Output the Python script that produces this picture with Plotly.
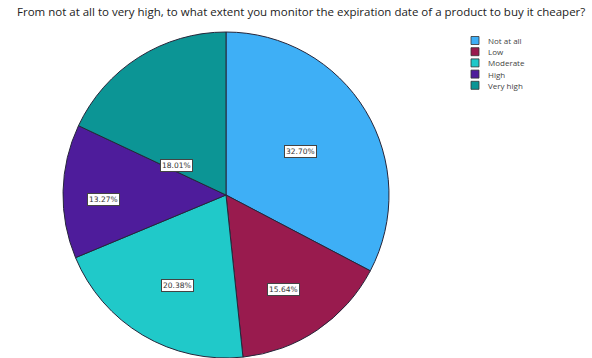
import math
import plotly.graph_objects as go

# Survey answers and their shares (percent)
categories = ["Not at all", "Low", "Moderate", "High", "Very high"]
shares = [32.70, 15.64, 20.38, 13.27, 18.01]
value_labels = ["32.70%", "15.64%", "20.38%", "13.27%", "18.01%"]

title_text = ("From not at all to very high, to what extent you monitor the "
              "expiration date of a product to buy it cheaper?")

# Styling
colors = ["#3EAFF6", "#991B4E", "#20C9C9", "#4E1C9B", "#0C9595"]
label_radius = [0.53, 0.68, 0.63, 0.75, 0.35]   # label distance as fraction of radius
label_turn = [1.0, 3.0, -2.5, -3.5, -27.0]      # degrees added to the slice mid-angle

W, H = 592, 358
cx, cy, R = 226, 195, 163  # pie centre / radius in pixels (from top-left)

fig = go.Figure()
fig.add_trace(go.Pie(
    labels=categories,
    values=shares,
    sort=False,
    direction="clockwise",
    rotation=0,
    marker=dict(colors=colors, line=dict(color="#26263a", width=1)),
    textinfo="none",
    hoverinfo="label+percent",
    showlegend=False,
    domain=dict(x=[(cx - R) / W, (cx + R) / W],
                y=[max(0, (H - cy - R) / H), (H - cy + R) / H]),
))

# Boxed value labels placed inside each slice
annotations = []
total = sum(shares)
cum = 0.0
for val, lab, f, turn in zip(shares, value_labels, label_radius, label_turn):
    mid = (cum + val / 2) / total * 360.0 + turn
    cum += val
    th = math.radians(mid)
    px = cx + R * f * math.sin(th)
    py = cy - R * f * math.cos(th)
    annotations.append(dict(
        x=px / W, y=1 - py / H, xref="paper", yref="paper",
        xanchor="center", yanchor="middle",
        text=lab, showarrow=False,
        font=dict(family="DejaVu Sans", size=7.5, color="#333333"),
        bgcolor="white", bordercolor="#444444", borderwidth=1, borderpad=1,
    ))

# Title
annotations.append(dict(
    x=0.508, y=1 - 12 / H, xref="paper", yref="paper",
    text=title_text, showarrow=False, xanchor="center", yanchor="middle",
    font=dict(family="Open Sans", size=11.5, color="#222222"),
))

# Legend: colour swatches with category names
shapes = []
lx, ly0, step, sw = 471, 40.5, 11.2, 8
for i, (cat, col) in enumerate(zip(categories, colors)):
    yc = ly0 + i * step
    shapes.append(dict(
        type="rect", xref="paper", yref="paper",
        x0=lx / W, x1=(lx + sw) / W,
        y0=1 - (yc + sw / 2) / H, y1=1 - (yc - sw / 2) / H,
        fillcolor=col, line=dict(color="#333333", width=0.8),
    ))
    annotations.append(dict(
        x=(lx + sw + 7) / W, y=1 - yc / H, xref="paper", yref="paper",
        text=cat, showarrow=False, xanchor="left", yanchor="middle",
        font=dict(family="Open Sans", size=8, color="#444444"),
    ))

fig.update_layout(
    width=W, height=H,
    margin=dict(l=0, r=0, t=0, b=0),
    paper_bgcolor="white", plot_bgcolor="white",
    annotations=annotations, shapes=shapes,
)

fig.write_html("out.html")
